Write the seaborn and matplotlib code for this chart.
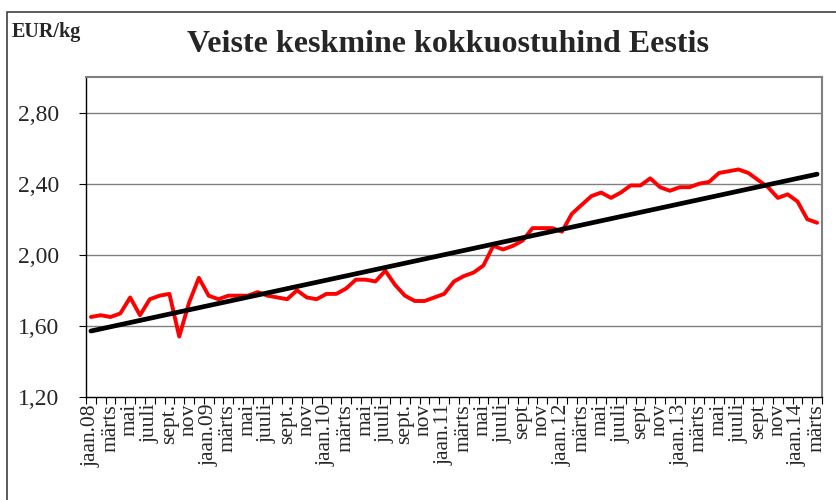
import numpy as np
import pandas as pd
import matplotlib
matplotlib.use("Agg")
import matplotlib.pyplot as plt
from matplotlib.patches import Rectangle
import seaborn as sns

# keskmine kokkuostuhind, EUR/kg, jaan.08 ... märts.14 (igakuine)
hind = [
    1.65, 1.66, 1.65, 1.67, 1.76, 1.66, 1.75, 1.77, 1.78, 1.54, 1.73, 1.87,  # 2008
    1.77, 1.75, 1.77, 1.77, 1.77, 1.79, 1.77, 1.76, 1.75, 1.80, 1.76, 1.75,  # 2009
    1.78, 1.78, 1.81, 1.86, 1.86, 1.85, 1.91, 1.83, 1.77, 1.74, 1.74, 1.76,  # 2010
    1.78, 1.85, 1.88, 1.90, 1.94, 2.05, 2.03, 2.05, 2.08, 2.15, 2.15, 2.15,  # 2011
    2.13, 2.23, 2.28, 2.33, 2.35, 2.32, 2.35, 2.39, 2.39, 2.43, 2.38, 2.36,  # 2012
    2.38, 2.38, 2.40, 2.41, 2.46, 2.47, 2.48, 2.46, 2.42, 2.38, 2.32, 2.34,  # 2013
    2.30, 2.20, 2.18,                                                        # 2014
]

kuu_sildid = [
    "jaan.08", "märts", "mai", "juuli", "sept.", "nov",
    "jaan.09", "märts", "mai", "juuli", "sept.", "nov",
    "jaan.10", "märts", "mai", "juuli", "sept.", "nov",
    "jaan.11", "märts", "mai", "juuli", "sept", "nov",
    "jaan.12", "märts", "mai", "juuli", "sept", "nov",
    "jaan.13", "märts", "mai", "juuli", "sept", "nov",
    "jaan.14", "märts",
]

y_ticks = [1.20, 1.60, 2.00, 2.40, 2.80]

df = pd.DataFrame({"kuu": np.arange(len(hind)), "hind": hind})

sns.set_style("white")
plt.rcParams["font.family"] = ["Liberation Serif", "DejaVu Serif"]

fig = plt.figure(figsize=(8.37, 5.0), dpi=100)
ax = fig.add_axes([86 / 837, 103 / 500, (822 - 86) / 837, (397 - 77) / 500])

# hinnajoon
sns.lineplot(data=df, x="kuu", y="hind", color="#ff0000", linewidth=2.8, ax=ax, zorder=3)
# lineaarne trend
sns.regplot(data=df, x="kuu", y="hind", scatter=False, ci=None, color="black",
            line_kws={"linewidth": 3.4, "zorder": 4}, ax=ax)

ax.set_xlim(-0.5, len(hind) - 0.5)
ax.set_ylim(1.2, 3.0)

# y telg
ax.set_yticks(y_ticks)
ax.set_yticklabels([f"{v:.2f}".replace(".", ",") for v in y_ticks], fontsize=17)
for v in y_ticks[1:]:
    ax.axhline(v, color="#808080", linewidth=1.0, zorder=1)

# x telg: kriipsud kuude vahel, sildid üle kuu
ax.set_xticks(np.arange(len(hind) + 1) - 0.5)
ax.set_xticklabels([])
ax.set_xticks(np.arange(0, len(hind), 2), minor=True)
ax.set_xticklabels(kuu_sildid, minor=True, rotation=90, fontsize=15.5)
ax.tick_params(axis="x", which="major", direction="out", length=5, width=0.8,
               color="black", bottom=True)
ax.tick_params(axis="x", which="minor", length=0, pad=5)
ax.tick_params(axis="y", direction="out", length=5, width=0.8, color="black",
               left=True, pad=14)

ax.set_xlabel("")
ax.set_ylabel("")

for s in ["left", "bottom"]:
    ax.spines[s].set_color("black")
    ax.spines[s].set_linewidth(1.0)
for s in ["top", "right"]:
    ax.spines[s].set_color("#808080")
    ax.spines[s].set_linewidth(1.5)

fig.text(448 / 837, 1 - 44 / 500, "Veiste keskmine kokkuostuhind Eestis",
         ha="center", va="center", fontsize=23, fontweight="bold")
fig.text(12 / 837, 1 - 32 / 500, "EUR/kg", ha="left", va="center",
         fontsize=14.5, fontweight="bold")

# diagrammi raam
fig.patches.append(Rectangle((7 / 837, -0.01), 1.0, 1 - 12 / 500 + 0.01,
                             transform=fig.transFigure, fill=False,
                             edgecolor="#404040", linewidth=1.2))

fig.savefig("out.png", dpi=100)
